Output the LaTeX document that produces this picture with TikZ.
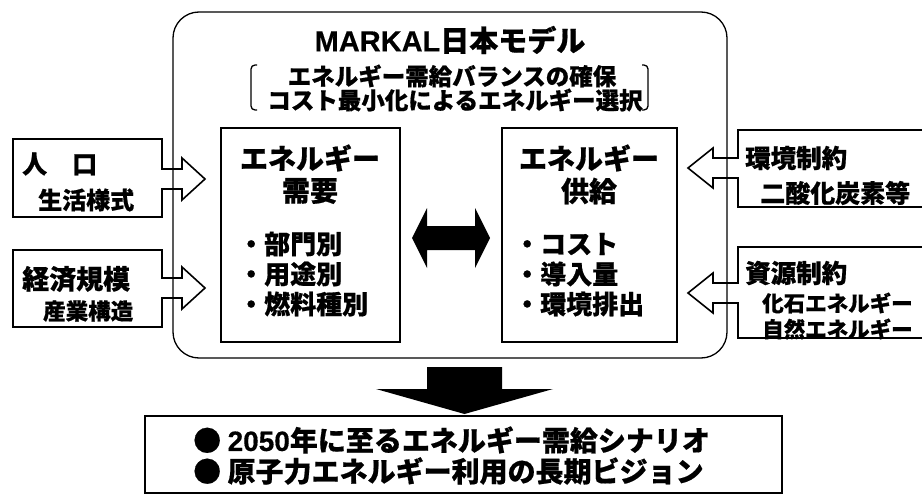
\documentclass[tikz,border=0pt]{standalone}
\usepackage{fontspec}
\setmainfont{Noto Sans CJK JP}[BoldFeatures={FakeBold=0.6}]
\newfontfamily\lat{Liberation Sans}[BoldFeatures={FakeBold=0.4}]
\newcommand\FS[1]{\fontsize{#1}{#1}\selectfont}
\begin{document}
\begin{tikzpicture}[x=1pt,y=-1pt,line join=miter,
  outl/.style={draw=black,line width=1.6pt,fill=white},
  inbox/.style={draw=black,line width=1.8pt,inner sep=0pt},
  txt/.style={inner sep=0pt,font=\bfseries},
  blk/.style={fill=black}]
\useasboundingbox (0,0) rectangle (922,495);
\clip (0,0) rectangle (922,495);
\fill[white] (0,0) rectangle (922,495);

% side boxes with block arrows
\draw[outl] (13,139) -- (162,139) -- (162,169) -- (182,169) -- (182,158) -- (205,179) -- (182,200) -- (182,189) -- (162,189) -- (162,217) -- (13,217) -- cycle;
\draw[outl] (13,250) -- (162,250) -- (162,278) -- (182,278) -- (182,267) -- (205,288) -- (182,309) -- (182,298) -- (162,298) -- (162,327) -- (13,327) -- cycle;
\draw[outl] (930,130) -- (738,130) -- (738,158) -- (713,158) -- (713,148) -- (688,168) -- (713,188) -- (713,178) -- (738,178) -- (738,207) -- (930,207) -- cycle;
\draw[outl] (930,247) -- (738,247) -- (738,283) -- (713,283) -- (713,273) -- (688,293) -- (713,313) -- (713,303) -- (738,303) -- (738,338) -- (930,338) -- cycle;

% main model frame
\draw[line width=1.3pt,rounded corners=26pt] (173,12) rectangle (727,358);

\node[txt,font=\bfseries\FS{29}] (title) at (450,40) {{\lat MARKAL}日本モデル};
\node[txt,font=\bfseries\FS{23.5}] (sub1) at (452,76) {エネルギー需給バランスの確保};
\node[txt,font=\bfseries\FS{23.5}] (sub2) at (455,100) {コスト最小化によるエネルギー選択};
\draw[line width=1.3pt,rounded corners=4pt] (257,65) -- (251,65) -- (251,110) -- (257,110);
\draw[line width=1.3pt,rounded corners=4pt] (642,65) -- (648,65) -- (648,110) -- (642,110);

% demand / supply boxes
\node[inbox,minimum width=179pt,minimum height=214pt] (dem) at (310.5,235) {};
\node[inbox,minimum width=175pt,minimum height=214pt] (sup) at (589.5,235) {};

\node[txt,font=\bfseries\FS{28}] (dem1) at (310,158) {エネルギー};
\node[txt,font=\bfseries\FS{28}] (dem2) at (310,191) {需要};
\node[txt,font=\bfseries\FS{26},anchor=west] (dem3) at (238,244) {・部門別};
\node[txt,font=\bfseries\FS{26},anchor=west] (dem4) at (238,274) {・用途別};
\node[txt,font=\bfseries\FS{26},anchor=west] (dem5) at (238,304) {・燃料種別};

\node[txt,font=\bfseries\FS{28}] (sup1) at (589,158) {エネルギー};
\node[txt,font=\bfseries\FS{28}] (sup2) at (589,191) {供給};
\node[txt,font=\bfseries\FS{26},anchor=west] (sup3) at (514,244) {・コスト};
\node[txt,font=\bfseries\FS{26},anchor=west] (sup4) at (514,274) {・導入量};
\node[txt,font=\bfseries\FS{26},anchor=west] (sup5) at (514,304) {・環境排出};

% double arrow
\fill[blk] (412,238) -- (427,208) -- (427,226) -- (475,226) -- (475,208) -- (490,238) -- (475,268) -- (475,250) -- (427,250) -- (427,268) -- cycle;

% side texts
\node[txt,font=\bfseries\FS{25},anchor=west] (pop) at (22,164) {人　口};
\node[txt,font=\bfseries\FS{24},anchor=west] (life) at (38,200) {生活様式};
\node[txt,font=\bfseries\FS{27},anchor=west] (econ) at (22,279) {経済規模};
\node[txt,font=\bfseries\FS{22.5},anchor=west] (ind) at (43,311) {産業構造};

\node[txt,font=\bfseries\FS{25.5},anchor=west] (env) at (745,158) {環境制約};
\node[txt,font=\bfseries\FS{25},anchor=west] (co2) at (760,193) {二酸化炭素等};
\node[txt,font=\bfseries\FS{25.5},anchor=west] (res) at (745,273) {資源制約};
\node[txt,font=\bfseries\FS{21.5},anchor=west] (fos) at (762,303) {化石エネルギー};
\node[txt,font=\bfseries\FS{21.5},anchor=west] (nat) at (762,329) {自然エネルギー};

% down arrow
\fill[blk] (427,367) -- (502,367) -- (502,389) -- (553,389) -- (464.5,414) -- (376,389) -- (427,389) -- cycle;

% result box
\draw[line width=1.6pt] (145,416) rectangle (782,493);
\node[txt,font=\bfseries\FS{28},anchor=west] (res1) at (193,440) {● {\lat 2050}年に至るエネルギー需給シナリオ};
\node[txt,font=\bfseries\FS{28},anchor=west] (res2) at (193,471) {● 原子力エネルギー利用の長期ビジョン};
\end{tikzpicture}
\end{document}
